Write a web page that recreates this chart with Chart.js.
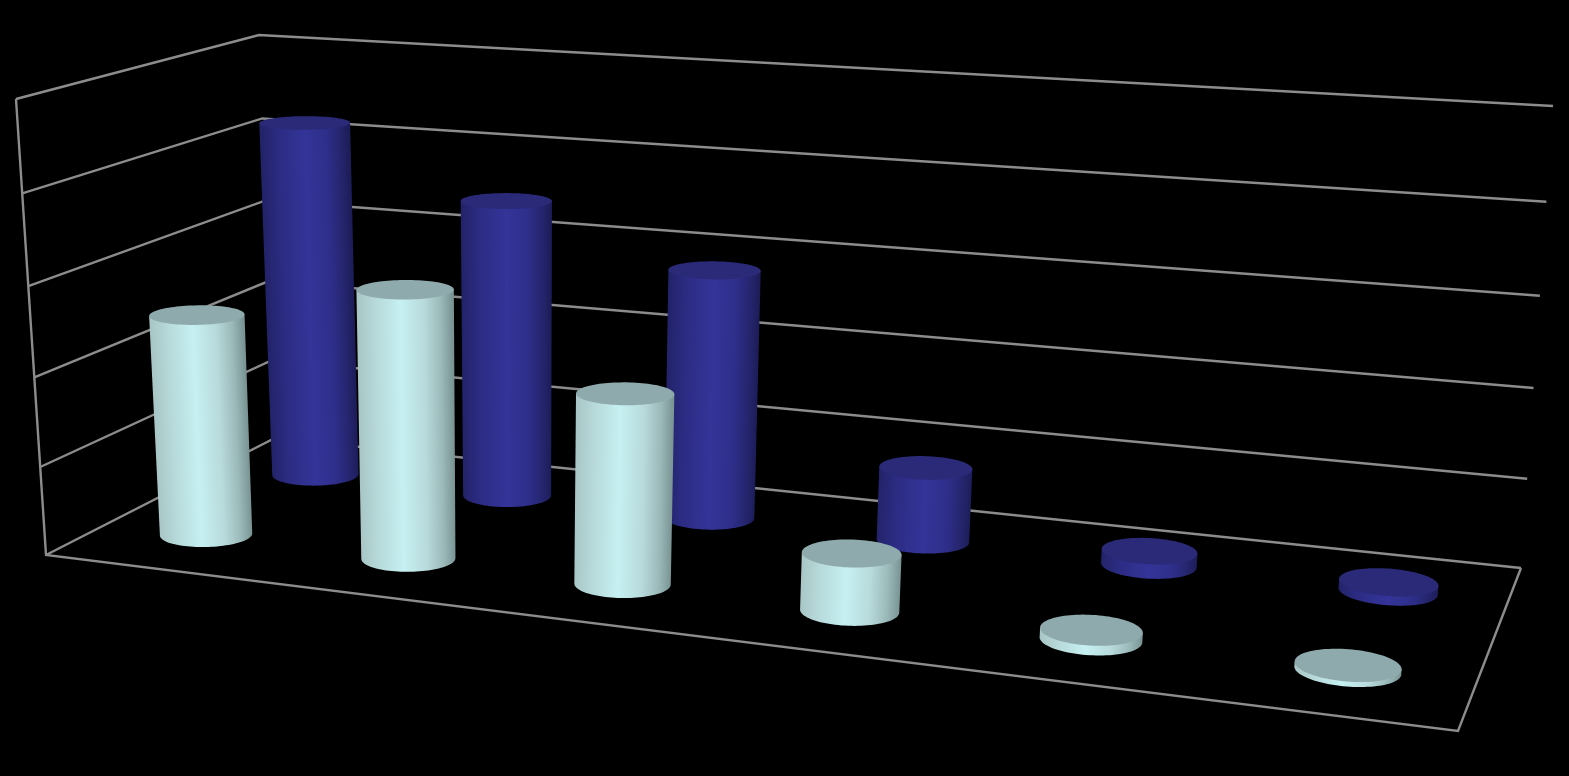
<!DOCTYPE html>
<html>
<head>
<meta charset="utf-8">
<title>3D cylinders</title>
<script src="https://cdn.jsdelivr.net/npm/chart.js@4/dist/chart.umd.js"></script>
<style>
  html, body { margin: 0; padding: 0; background: #000; overflow: hidden; }
  canvas { display: block; }
</style>
</head>
<body>
<canvas id="chart" width="1569" height="776"></canvas>
<script>
// Values (the original shows no labels)
const categories = ['1', '2', '3', '4', '5', '6'];
const frontValues = [2.51, 2.99, 2.08, 0.62, 0.1, 0.05];
const backValues = [4.22, 3.48, 2.87, 0.84, 0.16, 0.1];
const yTicks = [0, 1, 2, 3, 4, 5];

// Colours across the cylinder, left to right
const frontShades = [[0, '#a8c6c6'], [0.15, '#b5d6d6'], [0.45, '#c6f0f2'], [0.7, '#b8dadb'], [0.88, '#9ab8b8'], [1, '#7a9494']];
const backShades = [[0, '#23236a'], [0.2, '#2c2c84'], [0.5, '#343499'], [0.75, '#2e2e8a'], [0.9, '#25256e'], [1, '#1d1d5a']];
const frontLid = '#8faaac';
const backLid = '#2a2a78';
const gridColor = '#8c8c8c';

// Corners of the box on screen: floor and roof, [front-left, front-right, back-right, back-left]
const floorCorners = [[46, 555], [1458, 731], [1521, 568], [275, 438]];
const roofCorners = [[16, 99], [1493, 193], [1553, 106], [259, 35]];
const rowDepth = [0.25, 0.75]; // front row, back row
const depthRatio = 2.6; // radius along depth compared to radius along the categories
const riseBend = 0.045; // height lines get slightly further apart going up
const widthFade = 0.05; // cylinders on the right were drawn a bit narrower than the floor suggests
const rowStretch = 1.004; // small nudge along the categories

// Function to build a unit square -> quad mapping
function makeHomography(q) {
  const [p0, p1, p2, p3] = q;
  const dx1 = p1[0] - p2[0], dx2 = p3[0] - p2[0], sx = p0[0] - p1[0] + p2[0] - p3[0];
  const dy1 = p1[1] - p2[1], dy2 = p3[1] - p2[1], sy = p0[1] - p1[1] + p2[1] - p3[1];
  const det = dx1 * dy2 - dx2 * dy1;
  const g = (sx * dy2 - dx2 * sy) / det;
  const h = (dx1 * sy - sx * dy1) / det;
  const a = p1[0] - p0[0] + g * p1[0], b = p3[0] - p0[0] + h * p3[0], c = p0[0];
  const d = p1[1] - p0[1] + g * p1[1], e = p3[1] - p0[1] + h * p3[1], f = p0[1];
  return (u, v) => {
    const w = g * u + h * v + 1;
    return [(a * u + b * v + c) / w, (d * u + e * v + f) / w];
  };
}

const floorMap = makeHomography(floorCorners);
const roofMap = makeHomography(roofCorners);

// u along the categories, v into the depth, h up (all 0..1)
function project(u, v, h) {
  const p = floorMap(u, v);
  const q = roofMap(u, v);
  const k = h / (1 + riseBend * (1 - h));
  return [p[0] + (q[0] - p[0]) * k, p[1] + (q[1] - p[1]) * k];
}

function ringPoints(u, v, ru, rv, h) {
  const points = [];
  for (let i = 0; i < 96; i++) {
    const a = (i / 96) * Math.PI * 2;
    points.push(project(u + Math.cos(a) * ru, v + Math.sin(a) * rv, h));
  }
  return points;
}

function fillPolygon(ctx, points, fill) {
  ctx.beginPath();
  points.forEach((p, i) => (i ? ctx.lineTo(p[0], p[1]) : ctx.moveTo(p[0], p[1])));
  ctx.closePath();
  ctx.fillStyle = fill;
  ctx.fill();
}

function drawCylinder(ctx, bar, chart, rowIndex, shades, lidColor) {
  const area = chart.chartArea;
  const u = ((bar.x - area.left) / area.width) * rowStretch;
  const v = rowDepth[rowIndex];
  const baseRadius = bar.width / 2 / area.width;
  const ru = baseRadius * (1 - widthFade * u);
  const rv = baseRadius * depthRatio;
  const top = (area.bottom - bar.y) / area.height;
  const bottomRing = ringPoints(u, v, ru, rv, 0);
  const topRing = ringPoints(u, v, ru, rv, top);

  let left = 0;
  let right = 0;
  bottomRing.forEach((p, i) => {
    if (p[0] < bottomRing[left][0]) left = i;
    if (p[0] > bottomRing[right][0]) right = i;
  });

  // Outline: near side of the bottom ring, then straight across under the lid
  const outline = [];
  for (let i = right; i !== left; i = (i + 95) % 96) outline.push(bottomRing[i]);
  outline.push(bottomRing[left], topRing[left], topRing[right]);

  // Shade across the cylinder, at a right angle to its slightly leaning axis
  const lo = project(u, v, 0);
  const hi = project(u, v, top || 1);
  const len = Math.hypot(hi[0] - lo[0], hi[1] - lo[1]) || 1;
  const nx = -(hi[1] - lo[1]) / len;
  const ny = (hi[0] - lo[0]) / len;
  const sx = nx < 0 ? -nx : nx;
  const sy = nx < 0 ? -ny : ny;
  const L = bottomRing[left];
  const R = bottomRing[right];
  const span = (R[0] - L[0]) * sx + (R[1] - L[1]) * sy;
  const gradient = ctx.createLinearGradient(L[0], L[1], L[0] + sx * span, L[1] + sy * span);
  shades.forEach(([stop, color]) => gradient.addColorStop(stop, color));

  fillPolygon(ctx, outline, gradient);
  fillPolygon(ctx, topRing, lidColor);
}

// Bar controller that draws its bars as cylinders in the box
class CylinderController extends Chart.BarController {
  draw() {
    const ds = this.getDataset();
    this.getMeta().data.forEach((bar) => {
      drawCylinder(this.chart.ctx, bar, this.chart, this.index, ds.shades, ds.lidColor);
    });
  }
}
CylinderController.id = 'cylinder';
CylinderController.defaults = Chart.BarController.defaults;
CylinderController.overrides = Chart.BarController.overrides;
Chart.register(CylinderController);

// Plugin to paint the box lines behind the cylinders
const boxPlugin = {
  id: 'box',
  beforeDatasetsDraw(chart) {
    const ctx = chart.ctx;
    const yScale = chart.scales.y;
    const area = chart.chartArea;
    const line = (points) => {
      ctx.beginPath();
      points.forEach((p, i) => (i ? ctx.lineTo(p[0], p[1]) : ctx.moveTo(p[0], p[1])));
      ctx.stroke();
    };
    ctx.save();
    ctx.strokeStyle = gridColor;
    ctx.lineWidth = 2.4;
    ctx.lineJoin = 'miter';
    yTicks.forEach((tick) => {
      const h = (area.bottom - yScale.getPixelForValue(tick)) / area.height;
      line([project(0, 0, h), project(0, 1, h), project(1, 1, h)]);
    });
    line([project(0, 0, 1), project(0, 0, 0), project(1, 0, 0), project(1, 1, 0)]);
    ctx.restore();
  },
};

new Chart(document.getElementById('chart'), {
  data: {
    labels: categories,
    datasets: [
      { type: 'cylinder', data: frontValues, shades: frontShades, lidColor: frontLid, order: 0, grouped: false, categoryPercentage: 0.42, barPercentage: 1 },
      { type: 'cylinder', data: backValues, shades: backShades, lidColor: backLid, order: 1, grouped: false, categoryPercentage: 0.42, barPercentage: 1 },
    ],
  },
  options: {
    responsive: false,
    animation: false,
    layout: { padding: 0 },
    plugins: { legend: { display: false }, tooltip: { enabled: false } },
    scales: {
      x: { type: 'category', display: false },
      y: { type: 'linear', display: false, min: 0, max: 5 },
    },
  },
  plugins: [boxPlugin],
});
</script>
</body>
</html>
